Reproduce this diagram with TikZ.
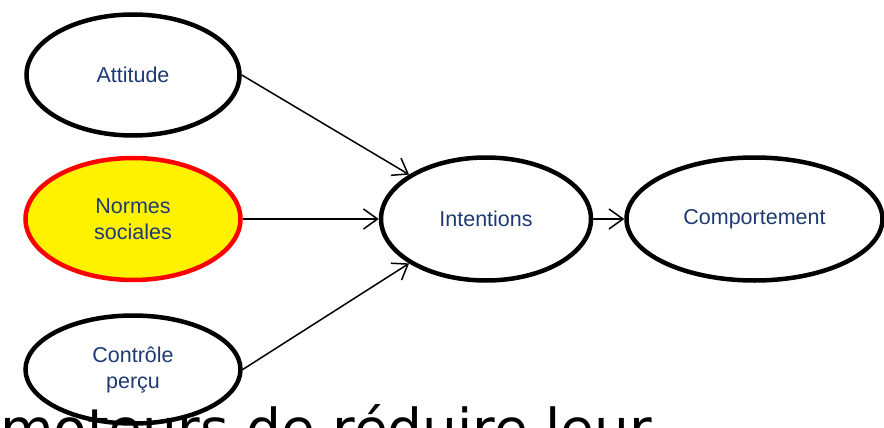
\documentclass[tikz,border=0pt]{standalone}
\usepackage{fontspec}
\setmainfont{Liberation Sans}
\newfontfamily\captionfont{DejaVu Sans}
\usepackage{xcolor}
\usetikzlibrary{shapes.geometric, arrows.meta, positioning}
\definecolor{labelnavy}{HTML}{1F3A73}

\begin{document}
\begin{tikzpicture}[
    x=1pt, y=1pt,
    oval/.style={ellipse, draw, line width=4.5pt, fill=white, inner sep=0pt, minimum width=215pt, minimum height=122pt, align=center, text=labelnavy, font=\fontsize{21.5}{26}\selectfont},
    arrow/.style={line width=1.5pt, -{Straight Barb[length=14pt, width=20pt]}}
]
\useasboundingbox (0,0) rectangle (884,-428);

% Antecedents of intention
\node [oval, draw=red, fill=yellow] (norms) at (133,-219) {Normes\\sociales};
\node [oval, minimum width=213pt, minimum height=121pt, above=18pt of norms] (attitude) {Attitude};
\node [oval, minimum height=108pt, below=31pt of norms] (control) {Contrôle\\perçu};

% Intention and behaviour
\node [oval, minimum width=210pt, minimum height=123pt, right=136pt of norms] (intent) {Intentions};
\node [oval, minimum width=256pt, minimum height=123pt, right=31pt of intent] (behav) {Comportement};

% Connections
\draw [arrow] (attitude.east) -- (intent.150);
\draw [arrow] (norms) -- (intent);
\draw [arrow] (control.east) -- (intent.210);
\draw [arrow] (intent) -- (behav);

% Slide text running under the diagram
\begin{scope}
\clip (0,0) rectangle (884,-428);
\node [anchor=base west, inner sep=0pt, font=\captionfont\fontsize{55}{60}\selectfont] (tagline) at (0,-448) {moteurs de réduire leur};
\end{scope}

\end{tikzpicture}
\end{document}
